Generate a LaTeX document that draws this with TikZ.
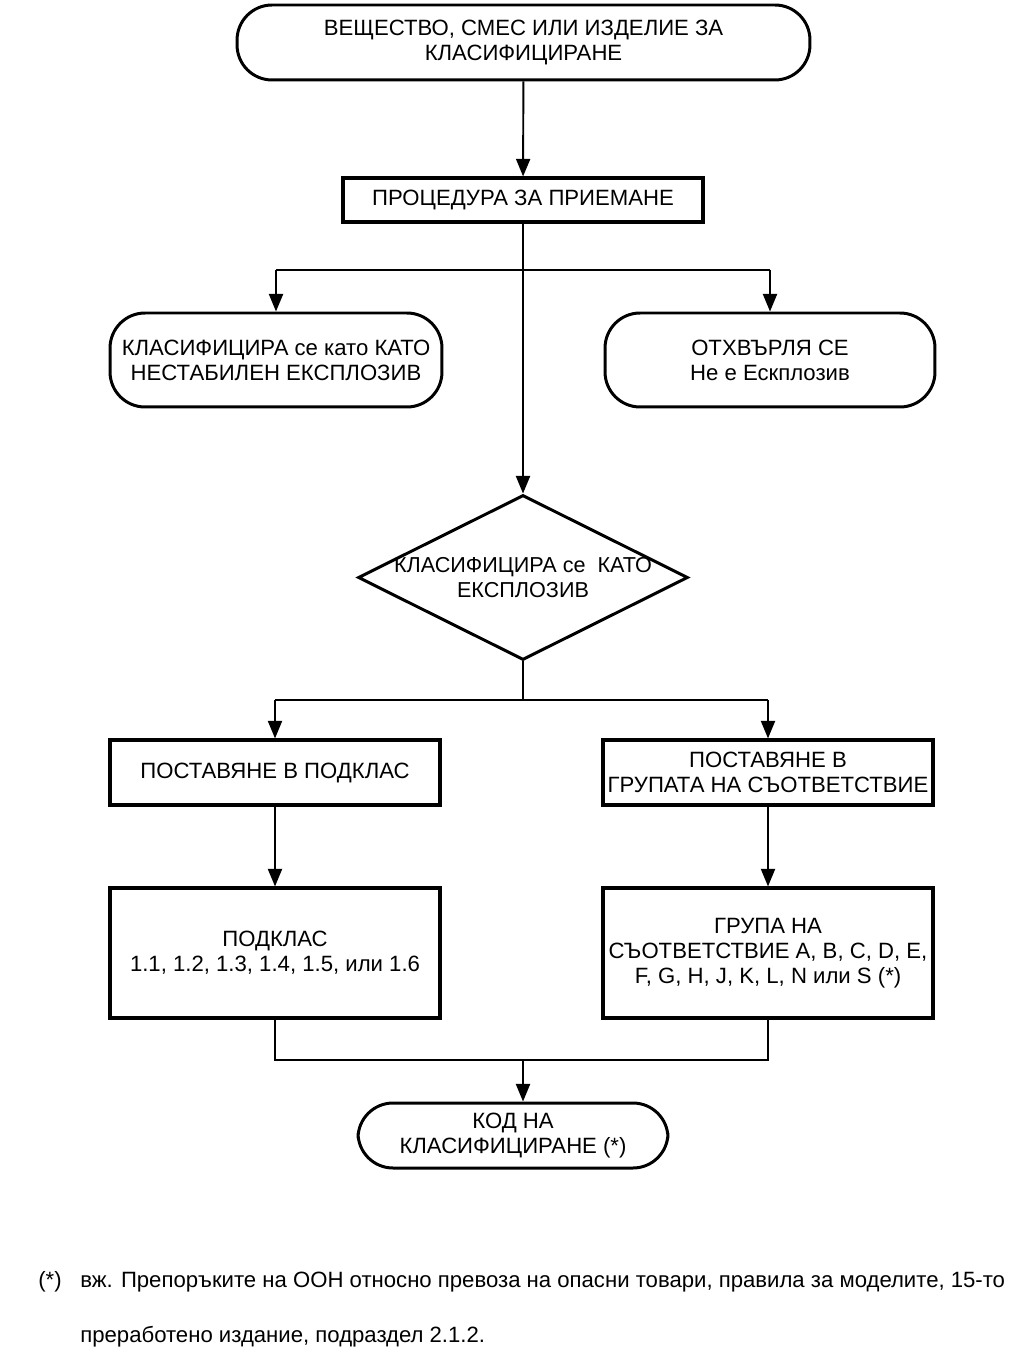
\documentclass[tikz,border=0pt]{standalone}
\usepackage{fontspec}
\setmainfont{Liberation Sans}
\usetikzlibrary{arrows.meta,shapes.geometric}
\begin{document}
\begin{tikzpicture}[x=0.02cm,y=-0.02cm,
  every node/.style={font=\fontsize{12.6}{14.2}\selectfont, align=center, inner sep=0pt},
  term/.style={draw, line width=1.7pt, rounded corners=0.7cm},
  boxnode/.style={draw, line width=1.8pt},
  conn/.style={line width=1.1pt},
  arr/.style={conn, -{Triangle[length=10pt,width=8pt]}}]
\useasboundingbox (0,0) rectangle (1023,1364);
\node[term, minimum width=11.46cm, minimum height=1.5cm] (start) at (523.5,42.5)
  {ВЕЩЕСТВО, СМЕС ИЛИ ИЗДЕЛИЕ ЗА\\КЛАСИФИЦИРАНЕ};
\node[boxnode, minimum width=7.2cm, minimum height=0.88cm] (proc) at (523,200)
  {ПРОЦЕДУРА ЗА ПРИЕМАНЕ};
\node[term, minimum width=6.64cm, minimum height=1.88cm] (unst) at (276,360)
  {КЛАСИФИЦИРА се като КАТО\\НЕСТАБИЛЕН ЕКСПЛОЗИВ};
\node[term, minimum width=6.6cm, minimum height=1.88cm] (rej) at (770,360)
  {ОТХВЪРЛЯ СЕ\\Не е Ескплозив};
\node[diamond, draw, line width=1.7pt, minimum width=6.6cm, minimum height=3.3cm] (dia) at (523,577.5) {};
\node[font=\fontsize{12.3}{14.2}\selectfont] (diat) at (dia.center) {КЛАСИФИЦИРА се~~КАТО\\ЕКСПЛОЗИВ};
\node[boxnode, minimum width=6.6cm, minimum height=1.3cm] (sub) at (275,772.5)
  {ПОСТАВЯНЕ В ПОДКЛАС};
\node[boxnode, minimum width=6.6cm, minimum height=1.3cm] (grp) at (768,772.5)
  {ПОСТАВЯНЕ В\\ГРУПАТА НА СЪОТВЕТСТВИЕ};
\node[boxnode, minimum width=6.6cm, minimum height=2.6cm] (subl) at (275,953)
  {ПОДКЛАС\\1.1, 1.2, 1.3, 1.4, 1.5, или 1.6};
\node[boxnode, minimum width=6.6cm, minimum height=2.6cm] (grpl) at (768,953)
  {ГРУПА НА\\СЪОТВЕТСТВИЕ A, B, C, D, E,\\F, G, H, J, K, L, N или S (*)};
\node[term, minimum width=6.2cm, minimum height=1.3cm] (code) at (513,1135.5)
  {КОД НА\\КЛАСИФИЦИРАНЕ (*)};
% connectors
\draw[arr] (start) -- (proc);
\coordinate (j1) at (523,270);
\draw[conn] (proc.south) -- (j1);
\draw[arr] (j1) -- (dia.north);
\draw[conn] (j1 -| unst.north) -- (j1 -| rej.north);
\draw[arr] (j1 -| unst.north) -- (unst.north);
\draw[arr] (j1 -| rej.north) -- (rej.north);
\coordinate (j2) at (523,700);
\draw[conn] (dia.south) -- (j2);
\draw[conn] (j2 -| sub.north) -- (j2 -| grp.north);
\draw[arr] (j2 -| sub.north) -- (sub.north);
\draw[arr] (j2 -| grp.north) -- (grp.north);
\draw[arr] (sub) -- (subl);
\draw[arr] (grp) -- (grpl);
\coordinate (j3) at (523,1060);
\draw[conn] (subl.south) -- (subl.south |- j3) -- (grpl.south |- j3) -- (grpl.south);
\draw[arr] (j3) -- (j3 |- code.north);
% footnote
\node[anchor=base west] (fnm) at (38,1287) {(*)};
\node[anchor=base west] (fn1) at (80,1287) {вж. Препоръките на ООН относно превоза на опасни товари, правила за моделите, 15-то};
\node[anchor=base west] (fn2) at (80,1342) {преработено издание, подраздел 2.1.2.};
\end{tikzpicture}
\end{document}
